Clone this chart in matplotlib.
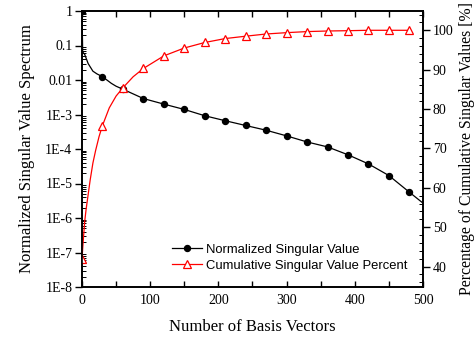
import numpy as np
import matplotlib
matplotlib.use("Agg")
import matplotlib.pyplot as plt
from matplotlib.ticker import FixedLocator, MultipleLocator, LogLocator, NullFormatter

# ---- data ----
nsv_x = [0, 1, 4, 9, 16, 22, 30, 43, 50, 60, 90, 120, 150, 180, 210, 240,
         270, 300, 330, 360, 390, 420, 450, 480, 500]
nsv_y = [1.0, 0.065, 0.055, 0.03, 0.018, 0.015, 0.0125, 0.008, 0.0066, 0.0054,
         0.0029, 0.002, 0.0014, 9.2e-4, 6.6e-4, 4.8e-4, 3.5e-4, 2.4e-4, 1.6e-4,
         1.15e-4, 6.8e-5, 3.7e-5, 1.7e-5, 5.6e-6, 2.7e-6]

cum_x = [0, 1, 2, 4, 6, 8, 12, 16, 20, 25, 30, 40, 50, 60, 75, 90, 120, 150,
         180, 210, 240, 270, 300, 330, 360, 390, 420, 450, 480]
cum_y = [41.9, 44.5, 47.0, 51.5, 54.5, 57.0, 62.0, 66.3, 69.5, 73.0, 75.8, 80.3,
         83.3, 85.4, 88.2, 90.3, 93.5, 95.5, 96.9, 97.9, 98.5, 99.06, 99.4, 99.67,
         99.82, 99.9, 100.0, 100.0, 100.0]

left_ticks = [1e-8, 1e-7, 1e-6, 1e-5, 1e-4, 1e-3, 1e-2, 1e-1, 1]
left_labels = ["1E-8", "1E-7", "1E-6", "1E-5", "1E-4", "1E-3", "0.01", "0.1", "1"]
right_ticks = [40, 50, 60, 70, 80, 90, 100]
x_ticks = [0, 100, 200, 300, 400, 500]

legend_labels = ["Normalized Singular Value", "Cumulative Singular Value Percent"]

serif = ["Liberation Serif", "DejaVu Serif"]
sans = ["Liberation Sans", "DejaVu Sans"]

fig = plt.figure(figsize=(4.75, 3.38), dpi=100)
ax = fig.add_axes([82/475, 1 - 287/338, (423 - 82)/475, (287 - 11)/338])
ax2 = ax.twinx()

nsv_marks = [i for i, v in enumerate(nsv_x) if v % 30 == 0]
cum_marks = [i for i, v in enumerate(cum_x) if v % 30 == 0]

l1, = ax.plot(nsv_x, nsv_y, color="black", lw=0.9, marker="o", ms=4.3,
              markevery=nsv_marks, mfc="black", mec="black")
l2, = ax2.plot(cum_x, cum_y, color="red", lw=0.9, marker="^", ms=5.4,
               markevery=cum_marks, mfc="white", mec="red", mew=0.9)

ax.set_yscale("log")
ax.set_xlim(0, 500)
ax.set_ylim(1e-8, 1)
ax2.set_ylim(34.8, 104.9)

ax.yaxis.set_major_locator(FixedLocator(left_ticks))
ax.set_yticklabels(left_labels)
ax.yaxis.set_minor_locator(LogLocator(base=10, subs=np.arange(2, 10), numticks=20))
ax.yaxis.set_minor_formatter(NullFormatter())
ax.xaxis.set_major_locator(FixedLocator(x_ticks))
ax.xaxis.set_minor_locator(MultipleLocator(50))
ax2.yaxis.set_major_locator(FixedLocator(right_ticks))
ax2.yaxis.set_minor_locator(MultipleLocator(2))

for a in (ax, ax2):
    for s in a.spines.values():
        s.set_linewidth(1.2)

ax.tick_params(axis="y", which="major", direction="out", length=5, width=1.0,
               labelsize=10, pad=2)
ax.tick_params(axis="y", which="minor", direction="in", length=3, width=0.7)
ax.tick_params(axis="x", which="both", direction="in", top=True, length=4,
               width=1.0, labelsize=10, pad=5)
ax2.tick_params(axis="y", which="major", direction="out", length=5, width=1.0,
                labelsize=10, pad=2)
ax2.tick_params(axis="y", which="minor", direction="in", length=3, width=0.7)

for lab in ax.get_xticklabels() + ax.get_yticklabels() + ax2.get_yticklabels():
    lab.set_family(serif)

ax.set_xlabel("Number of Basis Vectors", family=serif, fontsize=12, labelpad=9)
ax.set_ylabel("Normalized Singular Value Spectrum", family=serif, fontsize=12, labelpad=7)
ax2.set_ylabel("Percentage of Cumulative Singular Values [%]", family=serif,
               fontsize=11.3, labelpad=4)

leg = ax.legend([l1, l2], legend_labels, loc="lower right",
                bbox_to_anchor=(0.955, 0.055), frameon=False,
                prop={"family": sans, "size": 9.4}, handlelength=2.3,
                handletextpad=0.3, labelspacing=0.3, borderaxespad=0,
                borderpad=0)

fig.savefig("out.png", dpi=100)
